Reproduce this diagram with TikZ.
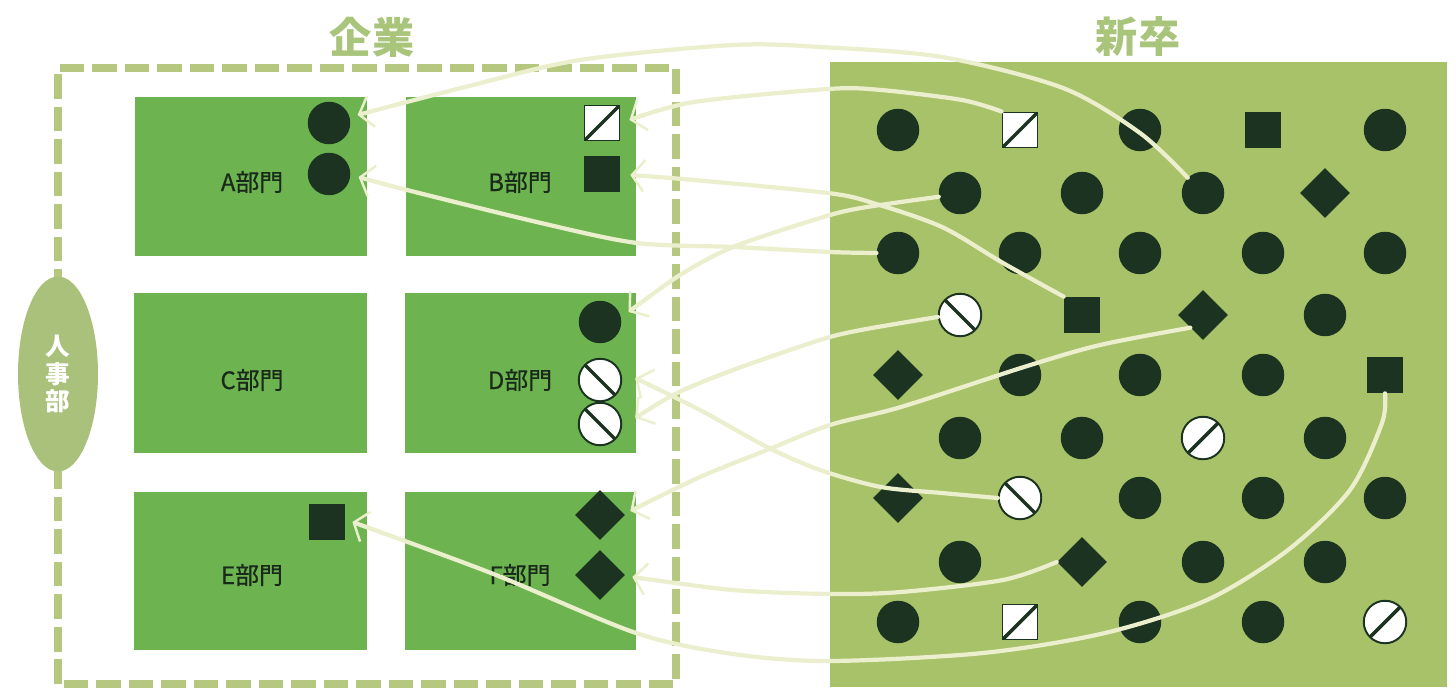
\documentclass[tikz,border=0pt]{standalone}
\usepackage{fontspec}
\newfontfamily\cjk{Noto Sans CJK JP}
\newfontfamily\cjkm[FakeBold=0.6]{Noto Sans CJK JP}
\usetikzlibrary{shapes.geometric,arrows.meta,calc}
\definecolor{deptgreen}{HTML}{6DB451}
\definecolor{panelgreen}{HTML}{A8C26A}
\definecolor{titlegreen}{HTML}{A9C47B}
\definecolor{bordergreen}{HTML}{B6C77F}
\definecolor{hrgreen}{HTML}{A9C17A}
\definecolor{dark}{HTML}{1B3320}
\definecolor{labeldark}{HTML}{1A2A1A}
\definecolor{linec}{HTML}{EBEFCD}
\tikzset{
  dot/.style={circle, fill=dark, minimum size=0.85cm, inner sep=0pt},
  sq/.style={rectangle, fill=dark, minimum size=0.72cm, inner sep=0pt},
  dia/.style={diamond, fill=dark, minimum size=1cm, inner sep=0pt},
  hsq/.style={rectangle, fill=white, draw=dark, line width=1.1pt, minimum size=0.70cm, inner sep=0pt,
    path picture={\draw[dark, line width=2pt] (path picture bounding box.south west) -- (path picture bounding box.north east);}},
  hcl/.style={circle, fill=white, draw=dark, line width=1.1pt, minimum size=0.85cm, inner sep=0pt,
    path picture={\draw[dark, line width=2pt] (path picture bounding box.north west) -- (path picture bounding box.south east);}},
  hcr/.style={circle, fill=white, draw=dark, line width=1.1pt, minimum size=0.85cm, inner sep=0pt,
    path picture={\draw[dark, line width=2pt] (path picture bounding box.south west) -- (path picture bounding box.north east);}},
  deptlabel/.style={text=labeldark, font=\cjkm\fontsize{13.6}{16}\selectfont, inner sep=0pt},
  titletext/.style={text=titlegreen, font=\cjk\bfseries\fontsize{24}{28}\selectfont, inner sep=0pt},
  conn/.style={draw=linec, line width=2.4pt, line cap=round,
    -{Straight Barb[length=7pt, width=18pt, line width=1.4pt]}},
}
\begin{document}
\begin{tikzpicture}[x=0.02cm, y=-0.02cm]
\useasboundingbox (0,0) rectangle (1456,689);
\fill[white] (0,0) rectangle (1456,689);

% titles
\node[titletext] (tcorp) at (372,37) {企業};
\node[titletext] (tnew) at (1138,37) {新卒};

% company dashed border
\draw[bordergreen, line width=4pt, dash pattern=on 14pt off 4.5pt] (58,684) -- (58,68) -- (676,68) -- (676,684) -- cycle;

% HR ellipse
\node[ellipse, fill=hrgreen, minimum width=1.6cm, minimum height=3.9cm, inner sep=0pt] (hr) at (58,374) {};
\node[text=white, font=\cjk\bfseries\fontsize{14}{15.5}\selectfont, align=center, inner sep=0pt] (hrtext) at (58,374) {人\\事\\部};

% departments
\fill[deptgreen] (135,97) rectangle (367,256);
\fill[deptgreen] (406,97) rectangle (636,256);
\fill[deptgreen] (134,293) rectangle (367,453);
\fill[deptgreen] (405,293) rectangle (636,453);
\fill[deptgreen] (134,492) rectangle (367,650);
\fill[deptgreen] (405,492) rectangle (636,650);
\node[deptlabel] (la) at (252,182) {A部門};
\node[deptlabel] (lb) at (520,182) {B部門};
\node[deptlabel] (lc) at (252,380) {C部門};
\node[deptlabel] (ld) at (520,380) {D部門};
\node[deptlabel] (le) at (252,575) {E部門};
\node[deptlabel] (lf) at (520,575) {F部門};

% department members
\node[dot] (A1) at (329,123) {};
\node[dot] (A2) at (329,174) {};
\node[hsq] (B1) at (602,123) {};
\node[sq]  (B2) at (602,174) {};
\node[dot] (D1) at (600,322) {};
\node[hcl] (D2) at (600,380) {};
\node[hcl] (D3) at (600,424) {};
\node[sq]  (E1) at (327,522) {};
\node[dia] (F1) at (600,515) {};
\node[dia] (F2) at (600,575) {};

% new graduates panel
\fill[panelgreen] (830,62) rectangle (1447,687);

% row 1
\node[dot] (g11) at (898,130) {};
\node[hsq] (g12) at (1020,130) {};
\node[dot] (g13) at (1140,130) {};
\node[sq]  (g14) at (1263,130) {};
\node[dot] (g15) at (1385,130) {};
% row 2
\node[dot] (g21) at (960,193) {};
\node[dot] (g22) at (1082,193) {};
\node[dot] (g23) at (1203,193) {};
\node[dia] (g24) at (1325,193) {};
% row 3
\node[dot] (g31) at (898,253) {};
\node[dot] (g32) at (1020,253) {};
\node[dot] (g33) at (1140,253) {};
\node[dot] (g34) at (1263,253) {};
\node[dot] (g35) at (1385,253) {};
% row 4
\node[hcl] (g41) at (960,315) {};
\node[sq]  (g42) at (1082,315) {};
\node[dia] (g43) at (1203,315) {};
\node[dot] (g44) at (1325,315) {};
% row 5
\node[dia] (g51) at (898,375) {};
\node[dot] (g52) at (1020,375) {};
\node[dot] (g53) at (1140,375) {};
\node[dot] (g54) at (1263,375) {};
\node[sq]  (g55) at (1385,375) {};
% row 6
\node[dot] (g61) at (960,438) {};
\node[dot] (g62) at (1082,438) {};
\node[hcr] (g63) at (1203,438) {};
\node[dot] (g64) at (1325,438) {};
% row 7
\node[dia] (g71) at (898,498) {};
\node[hcl] (g72) at (1020,498) {};
\node[dot] (g73) at (1140,498) {};
\node[dot] (g74) at (1263,498) {};
\node[dot] (g75) at (1385,498) {};
% row 8
\node[dot] (g81) at (960,562) {};
\node[dia] (g82) at (1082,562) {};
\node[dot] (g83) at (1203,562) {};
\node[dot] (g84) at (1325,562) {};
% row 9
\node[dot] (g91) at (898,622) {};
\node[hsq] (g92) at (1020,622) {};
\node[dot] (g93) at (1140,622) {};
\node[dot] (g94) at (1263,622) {};
\node[hcr] (g95) at (1385,622) {};

% connectors
\draw[conn] plot[smooth] coordinates {(g23.135) (1140,133) (1063,88) (942,57) (820,47) (733,45) (580,60) (465,87) ($(A1.east)+(7,-8)$)};
\draw[conn] plot[smooth] coordinates {(g12.north west) (962,100) (881,90) (828,89) (694,102) ($(B1.east)+(9,-3)$)};
\draw[conn] plot[smooth] coordinates {(g31.west) (830,252) (733,247) (637,243) (541,223) (407,190) ($(A2.east)+(8,3)$)};
\draw[conn] plot[smooth] coordinates {(g42.north west) (1003,263) (942,227) (873,203) (828,193) (694,180) ($(B2.east)+(10,1)$)};
\draw[conn] plot[smooth] coordinates {(g21.190) (861,208) (820,218) (733,247) (680,275) ($(D1.east)+(7,-10)$)};
\draw[conn] plot[smooth] coordinates {(g41.185) (861,330) (820,340) (733,370) (677,393) ($(D3.east)+(13,-6)$)};
\draw[conn] plot[smooth] coordinates {(g72.west) (942,493) (881,487) (820,470) (767,447) (700,410) ($(D2.east)+(13,-2)$)};
\draw[conn] plot[smooth] coordinates {(g43.south west) (1100,345) (1024,367) (901,407) (830,425) (767,450) (700,477) ($(F1.east)+(5,-4)$)};
\draw[conn] plot[smooth] coordinates {(g82.west) (1003,580) (901,592) (830,594) (733,590) ($(F2.east)+(7,2)$)};
\draw[conn] plot[smooth] coordinates {(g55.south) (1382,423) (1350,490) (1288,550) (1207,600) (1105,633) (983,653) (830,661) (733,654) (636,633) (491,573) ($(E1.east)+(7,0)$)};
\end{tikzpicture}
\end{document}
